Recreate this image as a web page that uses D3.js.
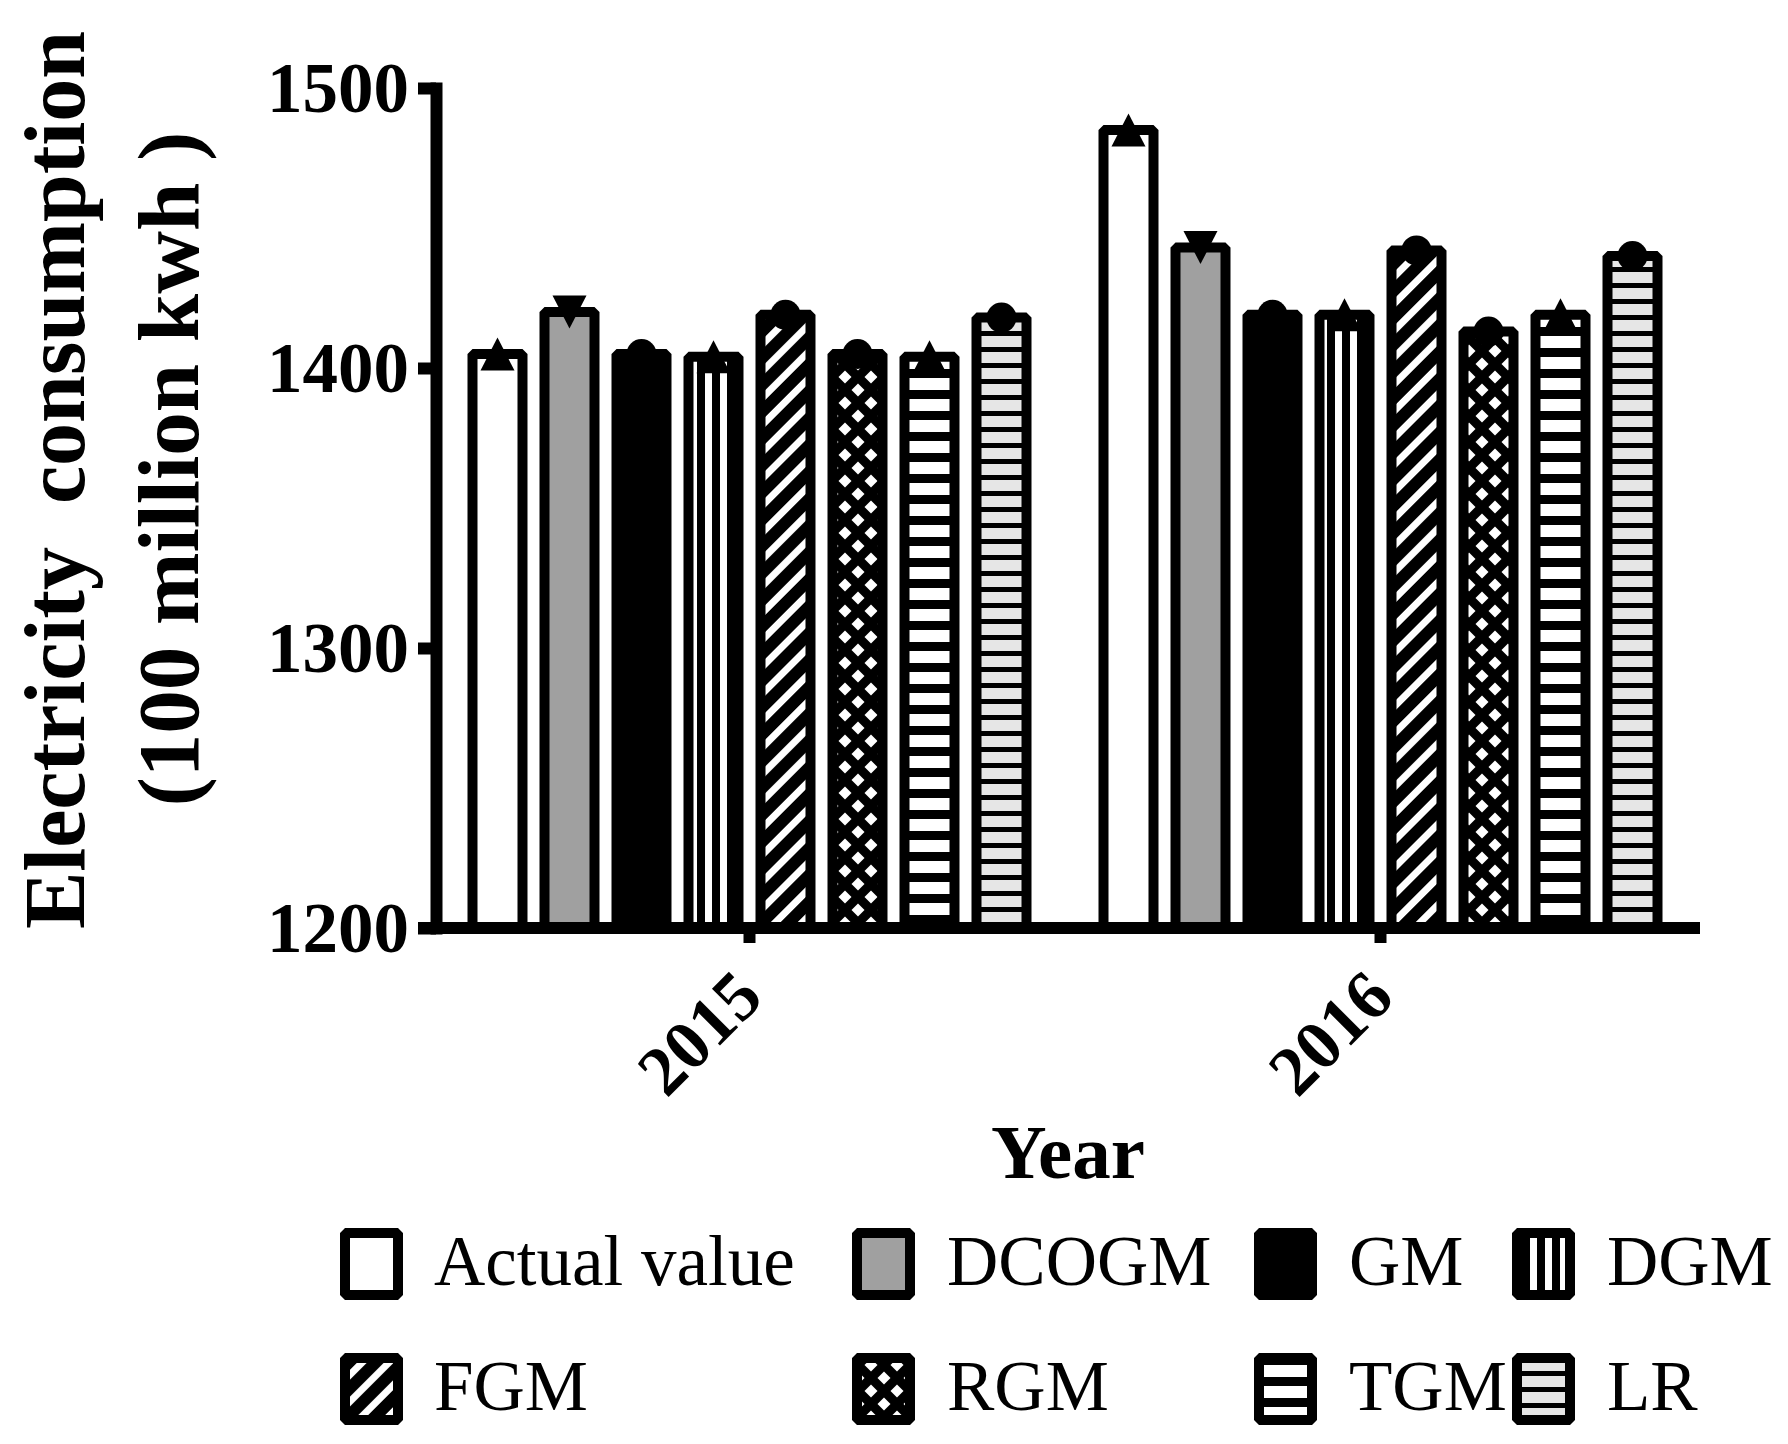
<!DOCTYPE html>
<html>
<head>
<meta charset="utf-8">
<script src="https://cdn.jsdelivr.net/npm/d3@7/dist/d3.min.js"></script>
<style>
  html, body { margin: 0; padding: 0; background: #fff; }
  svg { display: block; }
  text { font-family: "Liberation Serif", "DejaVu Serif", serif; fill: #000; }
</style>
</head>
<body>
<svg id="chart" width="1788" height="1444"></svg>
<script>
// ---------- data ----------
const years = ['2015', '2016'];
const series = ['Actual value', 'DCOGM', 'GM', 'DGM', 'FGM', 'RGM', 'TGM', 'LR'];
const values2015 = [1405, 1420, 1405, 1404, 1419, 1405, 1404, 1418];
const values2016 = [1485, 1443, 1419, 1419, 1442, 1413, 1419, 1440];
const yTicks = [1200, 1300, 1400, 1500];
const yTitle = ['Electricity  consumption', '(100 million kwh )'];
const xTitle = 'Year';

const valuesByYear = { '2015': values2015, '2016': values2016 };

// ---------- styles ----------
const fills = {
  'Actual value': '#ffffff',
  'DCOGM': '#a0a0a0',
  'GM': '#000000',
  'DGM': 'url(#pDGM)',
  'FGM': 'url(#pFGM)',
  'RGM': 'url(#pRGM)',
  'TGM': 'url(#pTGM)',
  'LR': 'url(#pLR)'
};
const markerType = {
  'Actual value': 'up', 'DCOGM': 'down', 'GM': 'circle', 'DGM': 'up',
  'FGM': 'circle', 'RGM': 'circle', 'TGM': 'up', 'LR': 'circle'
};

const svg = d3.select('#chart');
const defs = svg.append('defs');

// vertical stripes
const pD = defs.append('pattern').attr('id', 'pDGM').attr('patternUnits', 'userSpaceOnUse')
  .attr('width', 15).attr('height', 15);
pD.append('rect').attr('width', 15).attr('height', 15).attr('fill', '#fff');
pD.append('rect').attr('x', 7).attr('width', 8).attr('height', 15).attr('fill', '#000');

// diagonal stripes "/"
const pF = defs.append('pattern').attr('id', 'pFGM').attr('patternUnits', 'userSpaceOnUse')
  .attr('width', 19).attr('height', 19).attr('patternTransform', 'rotate(45)');
pF.append('rect').attr('width', 19).attr('height', 19).attr('fill', '#000');
pF.append('rect').attr('x', 0).attr('width', 7).attr('height', 19).attr('fill', '#fff');

// diamond lattice
const pR = defs.append('pattern').attr('id', 'pRGM').attr('patternUnits', 'userSpaceOnUse')
  .attr('width', 26).attr('height', 26);
pR.append('rect').attr('width', 26).attr('height', 26).attr('fill', '#000');
const dia = (cx, cy, r) => `M${cx},${cy - r}L${cx + r},${cy}L${cx},${cy + r}L${cx - r},${cy}Z`;
[[0, 0], [26, 0], [0, 26], [26, 26], [13, 13]].forEach(([cx, cy]) =>
  pR.append('path').attr('d', dia(cx, cy, 6.5)).attr('fill', '#fff'));

// horizontal stripes (TGM)
const pT = defs.append('pattern').attr('id', 'pTGM').attr('patternUnits', 'userSpaceOnUse')
  .attr('width', 21).attr('height', 21);
pT.append('rect').attr('width', 21).attr('height', 21).attr('fill', '#fff');
pT.append('rect').attr('y', 12).attr('width', 21).attr('height', 9).attr('fill', '#000');

// light gray with thin lines (LR)
const pL = defs.append('pattern').attr('id', 'pLR').attr('patternUnits', 'userSpaceOnUse')
  .attr('width', 16).attr('height', 16);
pL.append('rect').attr('width', 16).attr('height', 16).attr('fill', '#e6e6e6');
pL.append('rect').attr('y', 11).attr('width', 16).attr('height', 5).attr('fill', '#000');

// ---------- scales ----------
const x0 = d3.scaleBand().domain(years).range([434, 1696]).padding(0);
const x1 = d3.scaleBand().domain(series).range([-277, 277]).paddingInner(0.3056).paddingOuter(0);
const y = d3.scaleLinear().domain([1200, 1500]).range([928, 88]);

const SW = 10;

// ---------- bars ----------
const rows = [];
years.forEach(yr => series.forEach((s, i) => rows.push({ year: yr, series: s, value: valuesByYear[yr][i] })));

const g = svg.append('g');
g.selectAll('rect.bar').data(rows).enter().append('rect')
  .attr('class', 'bar')
  .attr('x', d => x0(d.year) + x0.bandwidth() / 2 + x1(d.series))
  .attr('y', d => y(d.value))
  .attr('width', x1.bandwidth())
  .attr('height', d => y(1200) - y(d.value))
  .attr('fill', d => fills[d.series])
  .attr('stroke', '#000')
  .attr('stroke-width', SW)
  .attr('stroke-linejoin', 'bevel');

// ---------- markers ----------
const triUp = {
  draw(ctx, size) {
    const w = Math.sqrt(size) * 1.03, h = Math.sqrt(size);
    ctx.moveTo(0, -h / 2); ctx.lineTo(w / 2, h / 2); ctx.lineTo(-w / 2, h / 2); ctx.closePath();
  }
};
const triDown = {
  draw(ctx, size) {
    const w = Math.sqrt(size) * 1.03, h = Math.sqrt(size);
    ctx.moveTo(0, h / 2); ctx.lineTo(w / 2, -h / 2); ctx.lineTo(-w / 2, -h / 2); ctx.closePath();
  }
};
const symFor = t => t === 'up' ? d3.symbol(triUp, 33 * 33)
  : t === 'down' ? d3.symbol(triDown, 33 * 33)
  : d3.symbol(d3.symbolCircle, Math.PI * 15 * 15);

g.selectAll('path.marker').data(rows).enter().append('path')
  .attr('class', 'marker')
  .attr('d', d => symFor(markerType[d.series])())
  .attr('transform', d => `translate(${x0(d.year) + x0.bandwidth() / 2 + x1(d.series) + x1.bandwidth() / 2},${y(d.value)})`)
  .attr('fill', '#000');

// ---------- axes ----------
const yAxis = d3.axisLeft(y).tickValues(yTicks).tickSize(18).tickSizeOuter(0).tickPadding(9)
  .tickFormat(d3.format('d'));
const yg = svg.append('g').attr('transform', 'translate(436,0)').call(yAxis);
yg.select('.domain').attr('stroke', '#000').attr('stroke-width', 12).attr('stroke-linecap', 'square');
yg.selectAll('.tick line').attr('stroke', '#000').attr('stroke-width', 12);
yg.selectAll('.tick text').attr('font-family', '"Liberation Serif", serif').attr('font-weight', 'bold')
  .attr('font-size', 71).attr('dy', '0.33em');

const xAxis = d3.axisBottom(x0).tickSize(15).tickSizeOuter(0).tickFormat(d => d);
const xg = svg.append('g').attr('transform', 'translate(0,928)').call(xAxis);
xg.select('.domain').remove();
xg.selectAll('.tick line').attr('stroke', '#000').attr('stroke-width', 12);
xg.selectAll('.tick text')
  .attr('font-family', '"Liberation Serif", serif').attr('font-weight', 'bold').attr('font-size', 70)
  .attr('text-anchor', 'end').attr('y', 0).attr('dy', 0)
  .attr('transform', 'translate(16,72) rotate(-45)');
svg.append('line').attr('x1', 418).attr('x2', 1700).attr('y1', 928).attr('y2', 928)
  .attr('stroke', '#000').attr('stroke-width', 12);

// ---------- titles ----------
svg.append('text').attr('transform', 'translate(84,480) rotate(-90)')
  .attr('text-anchor', 'middle').attr('font-weight', 'bold').attr('font-size', 86)
  .style('white-space', 'pre').text(yTitle[0]);
svg.append('text').attr('transform', 'translate(198,469) rotate(-90)')
  .attr('text-anchor', 'middle').attr('font-weight', 'bold').attr('font-size', 87)
  .style('white-space', 'pre').text(yTitle[1]);
svg.append('text').attr('x', 1068).attr('y', 1178)
  .attr('text-anchor', 'middle').attr('font-weight', 'bold').attr('font-size', 77).text(xTitle);

// ---------- legend ----------
const colBox = [345, 857, 1259, 1517];
const colText = [434, 947, 1349, 1607];
const rowCenter = [1264, 1389];
const lg = svg.append('g');
series.forEach((s, i) => {
  const r = Math.floor(i / 4), c = i % 4;
  lg.append('rect')
    .attr('x', colBox[c]).attr('y', rowCenter[r] - 31)
    .attr('width', 53).attr('height', 62)
    .attr('fill', fills[s]).attr('stroke', '#000').attr('stroke-width', SW)
    .attr('stroke-linejoin', 'bevel');
  lg.append('text').attr('x', colText[c]).attr('y', rowCenter[r] + 21)
    .attr('font-size', 71).text(s);
});
</script>
</body>
</html>
